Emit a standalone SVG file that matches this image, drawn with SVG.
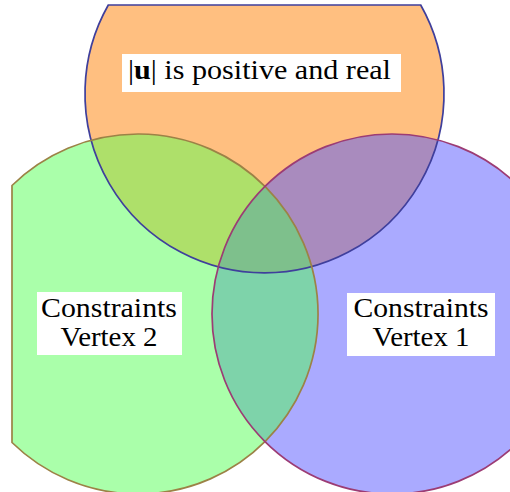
<svg xmlns="http://www.w3.org/2000/svg" width="510" height="492" viewBox="0 0 510 492">
  <style>
    .lbl { font-family: "Liberation Serif", "Times New Roman", serif; font-size: 27px; fill: #000; }
    .box { fill: #ffffff; }
    .edge { fill: none; stroke-width: 1.7; }
  </style>
  <defs>
    <path id="shapeO" d="M108.3,5 L420.7,5 A179.5,179.5 0 1,1 108.3,5 Z"/>
    <path id="shapeG" d="M12,442.5 L12,185.5 A180,180 0 1,1 12,442.5 Z"/>
    <circle id="shapeB" cx="392" cy="314" r="180"/>
    <clipPath id="clipO"><use href="#shapeO"/></clipPath>
    <clipPath id="clipG"><use href="#shapeG"/></clipPath>
  </defs>

  <g id="fills">
    <use href="#shapeO" fill="#FFBF80"/>
    <use href="#shapeG" fill="#AAFFAA"/>
    <use href="#shapeB" fill="#AAAAFF"/>
    <g clip-path="url(#clipO)">
      <use href="#shapeG" fill="#AEE06A"/>
      <use href="#shapeB" fill="#A98BBE"/>
    </g>
    <g clip-path="url(#clipG)">
      <use href="#shapeB" fill="#7ED3AA"/>
      <g clip-path="url(#clipO)">
        <use href="#shapeB" fill="#7EC08C"/>
      </g>
    </g>
  </g>

  <g id="node-real">
    <use href="#shapeO" class="edge" stroke="#3F3F9C"/>
  </g>
  <g id="node-vertex2">
    <use href="#shapeG" class="edge" stroke="#9C8246"/>
  </g>
  <g id="node-vertex1">
    <use href="#shapeB" class="edge" stroke="#9C3C74"/>
  </g>

  <g id="label-real">
    <rect class="box" x="122" y="54" width="279" height="38"/>
    <text class="lbl" x="128" y="79" textLength="263" lengthAdjust="spacingAndGlyphs">|<tspan font-weight="bold">u</tspan>| is positive and real</text>
  </g>
  <g id="label-vertex2">
    <rect class="box" x="37" y="292" width="145" height="63"/>
    <text class="lbl" x="109" y="317" text-anchor="middle" textLength="136" lengthAdjust="spacingAndGlyphs">Constraints</text>
    <text class="lbl" x="109" y="345.5" text-anchor="middle" textLength="97" lengthAdjust="spacingAndGlyphs">Vertex 2</text>
  </g>
  <g id="label-vertex1">
    <rect class="box" x="347" y="293" width="148" height="63"/>
    <text class="lbl" x="421" y="317" text-anchor="middle" textLength="135" lengthAdjust="spacingAndGlyphs">Constraints</text>
    <text class="lbl" x="421" y="345.5" text-anchor="middle" textLength="97" lengthAdjust="spacingAndGlyphs">Vertex 1</text>
  </g>
</svg>
